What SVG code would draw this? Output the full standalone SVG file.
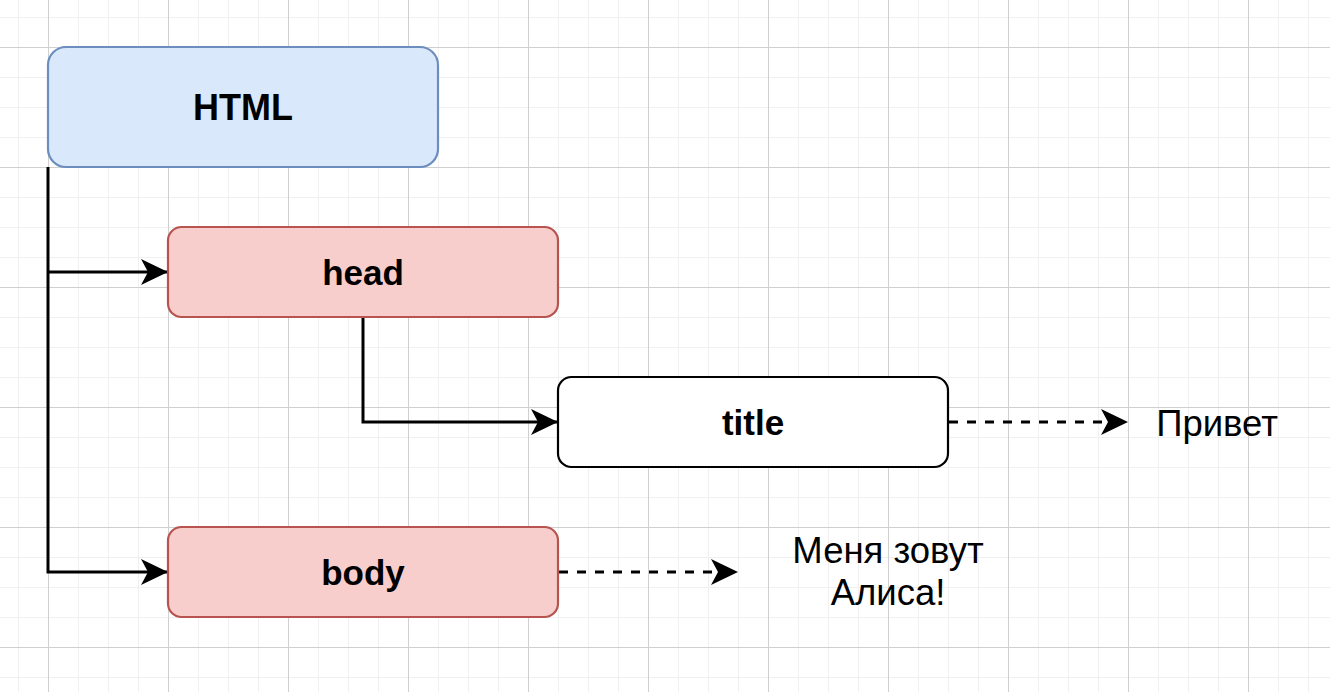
<svg xmlns="http://www.w3.org/2000/svg" width="1330" height="692" viewBox="0 0 1330 692">
<style>
.box{stroke-width:2.2}
.blue{fill:#dae8fc;stroke:#6c8ebf}
.red{fill:#f8cecc;stroke:#b85450}
.plain{fill:#ffffff;stroke:#000000}
.lbl{font-family:"Liberation Sans",Arial,Helvetica,sans-serif;font-size:36.5px;fill:#000;text-anchor:middle}
.b{font-weight:bold;font-size:35px}
.edge{fill:none;stroke:#000;stroke-width:3}
.dash{stroke-dasharray:9 9}
</style>
<defs>
<pattern id="grid" patternUnits="userSpaceOnUse" x="48" y="47" width="120" height="120">
<rect x="30" y="0" width="1" height="120" fill="#f0f0f0"/>
<rect x="60" y="0" width="1" height="120" fill="#f0f0f0"/>
<rect x="90" y="0" width="1" height="120" fill="#f0f0f0"/>
<rect x="0" y="30" width="120" height="1" fill="#f0f0f0"/>
<rect x="0" y="60" width="120" height="1" fill="#f0f0f0"/>
<rect x="0" y="90" width="120" height="1" fill="#f0f0f0"/>
<rect x="0" y="0" width="1" height="120" fill="#d0d0d0"/>
<rect x="0" y="0" width="120" height="1" fill="#d0d0d0"/>
</pattern>
<marker id="arr" markerUnits="userSpaceOnUse" viewBox="0 0 27 26" refX="26" refY="13" markerWidth="27" markerHeight="26" orient="auto">
<path d="M27 13 L0 0 L7 13 L0 26 Z" fill="#000"/>
</marker>
</defs>
<rect width="1330" height="692" fill="#ffffff"/>
<rect width="1330" height="692" fill="url(#grid)"/>
<g id="connectors">
<path class="edge" d="M48 167 V572 H167" marker-end="url(#arr)"/>
<path class="edge" d="M48 272 H167" marker-end="url(#arr)"/>
<path class="edge" d="M363 318 V422 H557" marker-end="url(#arr)"/>
<path class="edge dash" d="M949 422 H1127" marker-end="url(#arr)"/>
<path class="edge dash" d="M559 572 H737" marker-end="url(#arr)"/>
</g>
<g id="node-html">
<rect class="box blue" x="48" y="47" width="390" height="120" rx="18"/>
<text class="lbl b" x="243" y="120" style="font-size:36px">HTML</text>
</g>
<g id="node-head">
<rect class="box red" x="168" y="227" width="390" height="90" rx="13.5"/>
<text class="lbl b" x="363" y="285">head</text>
</g>
<g id="node-title">
<rect class="box plain" x="558" y="377" width="390" height="90" rx="13.5"/>
<text class="lbl b" x="753" y="435">title</text>
</g>
<g id="node-body">
<rect class="box red" x="168" y="527" width="390" height="90" rx="13.5"/>
<text class="lbl b" x="363" y="585">body</text>
</g>
<g id="text-privet">
<text class="lbl" x="1217" y="436">Привет</text>
</g>
<g id="text-alice">
<text class="lbl" x="888" y="563">Меня зовут</text>
<text class="lbl" x="888" y="605">Алиса!</text>
</g>
</svg>
